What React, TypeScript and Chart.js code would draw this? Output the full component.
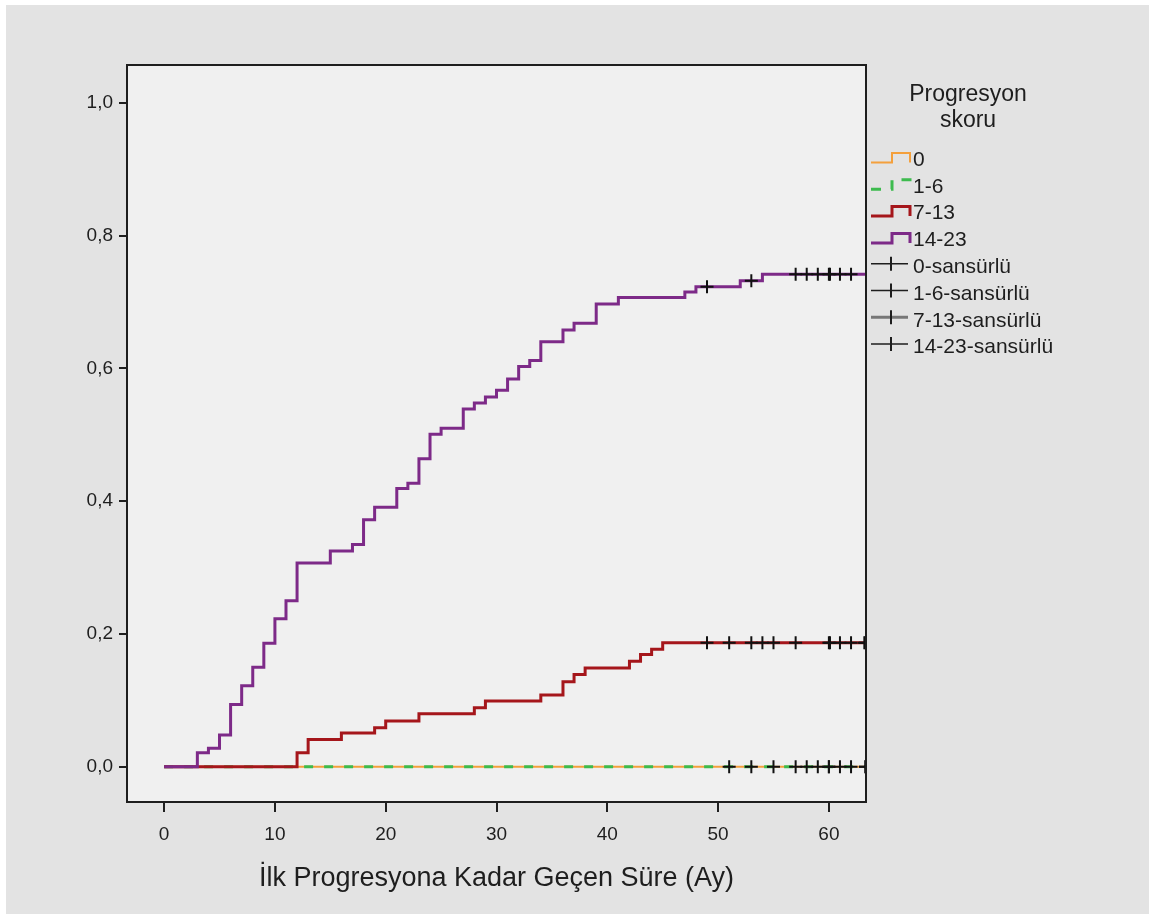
import React, { useEffect, useRef } from 'react';
import { Chart, registerables } from 'chart.js';

Chart.register(...registerables);

const FONT = "'Liberation Sans', Arial, sans-serif";

// Tick labels
const xTickValues = [0, 10, 20, 30, 40, 50, 60];
const yTickValues = [0, 0.2, 0.4, 0.6, 0.8, 1.0];

// Legend labels
const groupLabels = ['0', '1-6', '7-13', '14-23'];
const censorLabels = ['0-sansürlü', '1-6-sansürlü', '7-13-sansürlü', '14-23-sansürlü'];

// Group "0"
const g0Times = [0, 63.3];
const g0Values = [0, 0];
const g0Censored = [51, 55, 58, 60, 62, 63.3];

// Group "1-6"
const g16Times = [0, 63.3];
const g16Values = [0, 0];
const g16Censored = [53, 57, 59, 60, 61, 63.3];

// Group "7-13"
const g713Times = [0, 12, 13, 16, 19, 20, 23, 28, 29, 34, 36, 37, 38, 42, 43, 44, 45, 63.3];
const g713Values = [0, 0.021, 0.041, 0.051, 0.059, 0.069, 0.08, 0.089, 0.099, 0.108, 0.128, 0.139, 0.149, 0.159, 0.169, 0.177, 0.187, 0.187];
const g713Censored = [49, 51, 53, 54, 55, 57, 60, 60.1, 61, 62, 63.2, 63.3];

// Group "14-23"
const g1423Times = [0, 3, 4, 5, 6, 7, 8, 9, 10, 11, 12, 15, 17, 18, 19, 21, 22, 23, 24, 25, 27, 28, 29, 30, 31, 32, 33, 34, 36, 37, 39, 41, 47, 48, 52, 54, 63.3];
const g1423Values = [0, 0.021, 0.028, 0.048, 0.094, 0.122, 0.15, 0.186, 0.223, 0.25, 0.307, 0.325, 0.335, 0.372, 0.391, 0.419, 0.427, 0.464, 0.501, 0.51, 0.539, 0.548, 0.557, 0.567, 0.584, 0.603, 0.612, 0.64, 0.658, 0.668, 0.697, 0.707, 0.715, 0.723, 0.732, 0.742, 0.742];
const g1423Censored = [49, 53, 57, 58, 59, 60, 60.1, 61, 62];

const COLORS = {
  g0: '#f4a03c',
  g16: '#3dbb4e',
  g713: '#a5161b',
  g1423: '#7d2a88',
};

function stepAt(times: number[], values: number[], t: number): number {
  let v = values[0];
  for (let i = 0; i < times.length; i++) {
    if (times[i] <= t) v = values[i];
  }
  return v;
}

function curve(times: number[], values: number[]) {
  return times.map((t, i) => ({ x: t, y: values[i] }));
}

function censorPoints(times: number[], values: number[], cens: number[]) {
  return cens.map((t) => ({ x: t, y: stepAt(times, values, t) }));
}

const decorPlugin = {
  id: 'decor',
  beforeDraw(chart: any) {
    const { ctx, chartArea } = chart;
    const { left, top, right, bottom } = chartArea;
    ctx.save();
    ctx.fillStyle = '#ffffff';
    ctx.fillRect(0, 0, chart.width, chart.height);
    ctx.fillStyle = '#e3e3e3';
    ctx.fillRect(6, 5, 1143, 909);
    ctx.fillStyle = '#f0f0f0';
    ctx.fillRect(left, top, right - left, bottom - top);
    ctx.restore();
  },
  afterDraw(chart: any) {
    const { ctx, chartArea } = chart;
    const { left, top, right, bottom } = chartArea;
    ctx.save();
    // frame
    ctx.strokeStyle = '#1e1e1e';
    ctx.lineWidth = 2;
    ctx.strokeRect(left, top, right - left, bottom - top);

    // legend title
    ctx.fillStyle = '#1e1e1e';
    ctx.font = `23px ${FONT}`;
    ctx.textAlign = 'center';
    ctx.textBaseline = 'middle';
    ctx.fillText('Progresyon', 968, 95);
    ctx.fillText('skoru', 968, 121);

    // legend items
    const x0 = 871;
    const xStep = 892;
    const x1 = 910;
    const textX = 913;
    const startY = 160;
    const dy = 26.8;
    const seriesColors = [COLORS.g0, COLORS.g16, COLORS.g713, COLORS.g1423];
    ctx.textAlign = 'left';
    ctx.font = `21px ${FONT}`;
    groupLabels.forEach((lab, i) => {
      const cy = startY + i * dy;
      ctx.beginPath();
      ctx.strokeStyle = seriesColors[i];
      ctx.lineWidth = i === 0 ? 2 : 3;
      ctx.setLineDash(i === 1 ? [10, 10] : []);
      ctx.moveTo(x0, cy + 2.5);
      ctx.lineTo(xStep, cy + 2.5);
      ctx.lineTo(xStep, cy - 7);
      ctx.lineTo(x1, cy - 7);
      ctx.lineTo(x1, cy + 2.5);
      ctx.stroke();
      ctx.setLineDash([]);
      ctx.fillStyle = '#1e1e1e';
      ctx.fillText(lab, textX, cy);
    });
    censorLabels.forEach((lab, i) => {
      const cy = startY + (i + 4) * dy;
      const ly = cy - 3.5;
      ctx.beginPath();
      ctx.strokeStyle = i === 2 ? '#777777' : '#1e1e1e';
      ctx.lineWidth = i === 2 ? 3 : 1.5;
      ctx.moveTo(x0, ly);
      ctx.lineTo(x1 - 2, ly);
      ctx.stroke();
      ctx.beginPath();
      ctx.strokeStyle = '#1e1e1e';
      ctx.lineWidth = 2;
      ctx.moveTo(891, ly - 7);
      ctx.lineTo(891, ly + 7);
      ctx.stroke();
      ctx.fillStyle = '#1e1e1e';
      ctx.fillText(lab, textX, cy);
    });
    ctx.restore();
  },
};

export default function App() {
  const canvasRef = useRef<HTMLCanvasElement | null>(null);

  useEffect(() => {
    const canvas = canvasRef.current;
    if (!canvas) return;

    const lineDs = (label: string, data: any[], color: string, width: number, order: number, dash: number[] = []) => ({
      type: 'line' as const,
      label,
      data,
      borderColor: color,
      backgroundColor: color,
      borderWidth: width,
      borderDash: dash,
      borderCapStyle: 'butt' as const,
      stepped: 'before' as const,
      pointRadius: 0,
      fill: false,
      order,
    });

    const censorDs = (label: string, data: any[], order: number) => ({
      type: 'line' as const,
      label,
      data,
      showLine: false,
      pointStyle: 'cross' as const,
      pointRadius: 6.5,
      pointBorderColor: '#111111',
      pointBackgroundColor: '#111111',
      pointBorderWidth: 2,
      order,
    });

    const chart = new Chart(canvas, {
      type: 'line',
      data: {
        datasets: [
          censorDs(censorLabels[0], censorPoints(g0Times, g0Values, g0Censored), 0),
          censorDs(censorLabels[1], censorPoints(g16Times, g16Values, g16Censored), 0),
          censorDs(censorLabels[2], censorPoints(g713Times, g713Values, g713Censored), 0),
          censorDs(censorLabels[3], censorPoints(g1423Times, g1423Values, g1423Censored), 0),
          lineDs(groupLabels[3], curve(g1423Times, g1423Values), COLORS.g1423, 3, 1),
          lineDs(groupLabels[2], curve(g713Times, g713Values), COLORS.g713, 3, 2),
          lineDs(groupLabels[1], curve(g16Times, g16Values), COLORS.g16, 3, 3, [9, 11]),
          lineDs(groupLabels[0], curve(g0Times, g0Values), COLORS.g0, 2, 4),
        ],
      },
      options: {
        responsive: false,
        animation: false,
        events: [],
        layout: { padding: { left: 0, top: 65, right: 289, bottom: 0 } },
        plugins: {
          legend: { display: false },
          tooltip: { enabled: false },
          title: { display: false },
        },
        scales: {
          x: {
            type: 'linear',
            min: -3.35,
            max: 63.35,
            afterFit: (s: any) => {
              s.height = 118;
            },
            afterBuildTicks: (s: any) => {
              s.ticks = xTickValues.map((v) => ({ value: v }));
            },
            ticks: {
              autoSkip: false,
              maxRotation: 0,
              color: '#1e1e1e',
              padding: 11,
              font: { size: 19, family: FONT },
              callback: (v: any) => String(v),
            },
            grid: { drawOnChartArea: false, drawTicks: true, tickLength: 10, color: '#1e1e1e', lineWidth: 2 },
            border: { display: false },
            title: {
              display: true,
              text: 'İlk Progresyona Kadar Geçen Süre (Ay)',
              color: '#1e1e1e',
              font: { size: 27, family: FONT },
              padding: { top: 0, bottom: 25 },
            },
          },
          y: {
            type: 'linear',
            min: -0.053,
            max: 1.057,
            afterFit: (s: any) => {
              s.width = 127;
            },
            afterBuildTicks: (s: any) => {
              s.ticks = yTickValues.map((v) => ({ value: v }));
            },
            ticks: {
              autoSkip: false,
              color: '#1e1e1e',
              padding: 6,
              font: { size: 19, family: FONT },
              callback: (v: any) => Number(v).toFixed(1).replace('.', ','),
            },
            grid: { drawOnChartArea: false, drawTicks: true, tickLength: 8, color: '#1e1e1e', lineWidth: 2 },
            border: { display: false },
          },
        },
      },
      plugins: [decorPlugin],
    });

    return () => {
      chart.destroy();
    };
  }, []);

  return (
    <div style={{ position: 'absolute', left: 0, top: 0, width: 1155, height: 920 }}>
      <canvas ref={canvasRef} width={1155} height={920} style={{ display: 'block', width: 1155, height: 920 }} />
    </div>
  );
}
